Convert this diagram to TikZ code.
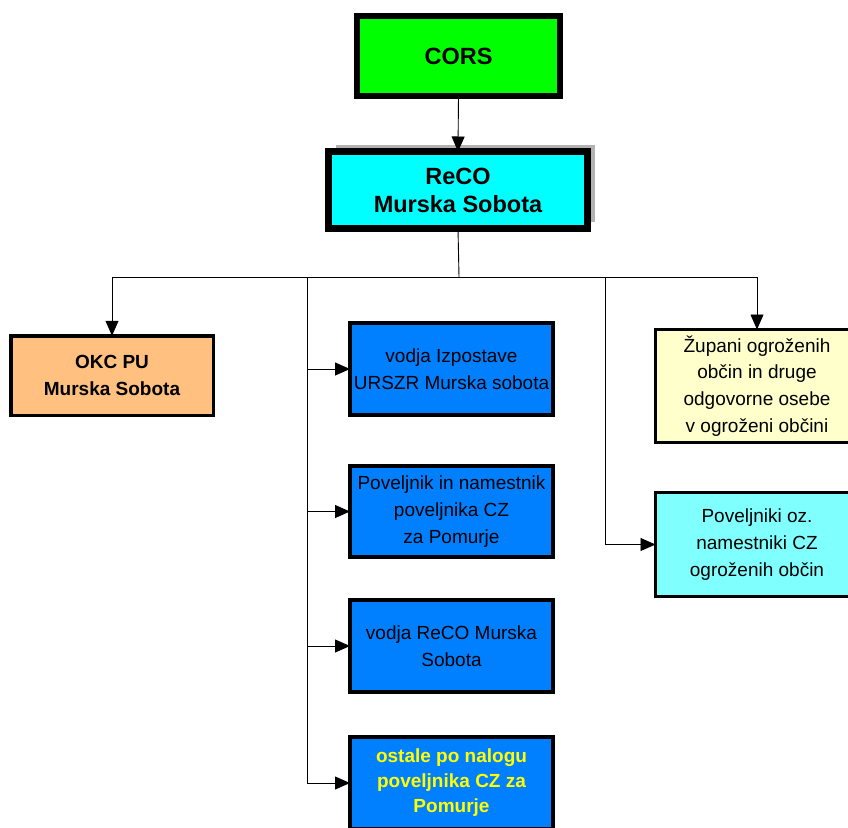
\documentclass[tikz,border=0pt]{standalone}
\usepackage{fontspec}
\setmainfont{Liberation Sans}
\usetikzlibrary{arrows.meta,shadows}
\definecolor{corsgreen}{HTML}{00FF00}
\definecolor{recocyan}{HTML}{00FFFF}
\definecolor{okcorange}{HTML}{FFC080}
\definecolor{boxblue}{HTML}{0080FF}
\definecolor{lightyellow}{HTML}{FFFFCC}
\definecolor{lightcyan}{HTML}{80FFFF}
\definecolor{txtyellow}{HTML}{FFFF00}
\tikzset{
  box/.style={draw=black, rectangle, align=center, inner sep=0pt, outer sep=0pt},
  bigbox/.style={box, font=\fontsize{23.5}{28}\selectfont\bfseries},
  smallbox/.style={box, line width=4pt, font=\fontsize{19}{26.7}\selectfont},
  bluebox/.style={smallbox, fill=boxblue, minimum width=203pt, minimum height=92pt},
  conn/.style={line width=0.9pt, draw=black},
  arr/.style={conn, -{Triangle[length=15pt,width=13pt]}}
}
\begin{document}
\begin{tikzpicture}[x=1pt,y=-1pt]
\clip (0,0) rectangle (848,827);
\fill[white] (0,0) rectangle (848,827);

\node[bigbox, fill=corsgreen, line width=6pt, minimum width=203pt, minimum height=80pt] (cors) at (458.5,56) {CORS};
\node[bigbox, fill=recocyan, line width=7pt, minimum width=259pt, minimum height=77pt,
  drop shadow={shadow xshift=7pt, shadow yshift=7pt, fill=gray!60, opacity=1}] (reco) at (458,190) {ReCO\\Murska Sobota};

\node[smallbox, font=\fontsize{19}{26.7}\selectfont\bfseries, fill=okcorange, line width=3.5pt, minimum width=202.5pt, minimum height=79.5pt] (okc) at (112,375.5) {OKC PU\\Murska Sobota};

\node[bluebox] (b1) at (451.5,369) {vodja Izpostave\\URSZR Murska sobota};
\node[bluebox, minimum height=91pt] (b2) at (451.5,511.5) {Poveljnik in namestnik\\poveljnika CZ\\za Pomurje};
\node[bluebox] (b3) at (451.5,646) {vodja ReCO Murska\\Sobota};
\node[bluebox, text=txtyellow, font=\fontsize{19}{25}\selectfont\bfseries] (b4) at (451.5,783) {ostale po nalogu\\poveljnika CZ za\\Pomurje};

\node[smallbox, fill=lightyellow, line width=3pt, minimum width=203pt, minimum height=113pt] (zup) at (757,386) {Župani ogroženih\\občin in druge\\odgovorne osebe\\v ogroženi občini};
\node[smallbox, fill=lightcyan, line width=3pt, minimum width=203pt, minimum height=104pt] (pov) at (757,544.5) {Poveljniki oz.\\namestniki CZ\\ogroženih občin};

\coordinate (j) at (459,277);
\coordinate (t1) at (307,277);
\coordinate (t2) at (605,277);

\draw[arr] (cors.south) -- (reco.north);
\draw[conn] (reco.south) -- (j);
\draw[arr] (j) -| (okc.north);
\draw[arr] (j) -| (zup.north);
\draw[arr] (t1) |- (b1.west);
\draw[arr] (t1) |- (b2.west);
\draw[arr] (t1) |- (b3.west);
\draw[arr] (t1) |- (b4.west);
\draw[arr] (t2) |- (pov.west);
\end{tikzpicture}
\end{document}
